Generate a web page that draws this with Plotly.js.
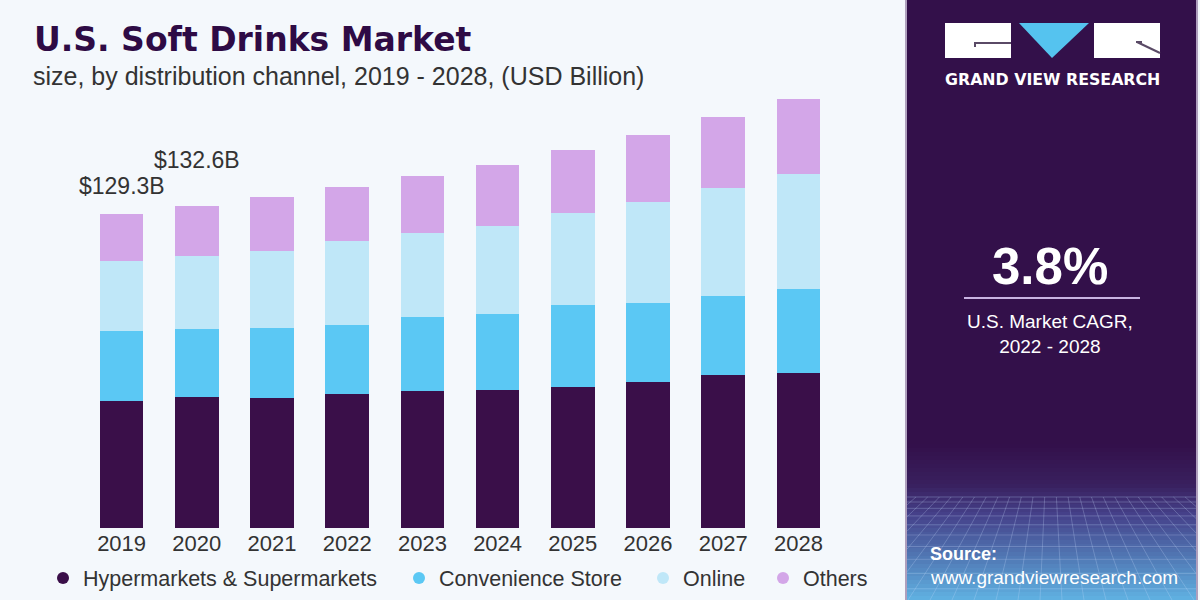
<!DOCTYPE html>
<html>
<head>
<meta charset="utf-8">
<script src="https://cdn.plot.ly/plotly-3.0.1.min.js"></script>
<style>html,body{margin:0;padding:0;background:#f4f8fc;}#chart{width:1200px;height:600px;}</style>
</head>
<body>
<div id="chart"></div>
<script>
// ---- data ----
const years = ['2019','2020','2021','2022','2023','2024','2025','2026','2027','2028'];
const hyper  = [52.4, 53.8, 53.6, 55.4, 56.6, 56.7, 58.1, 60.2, 63.2, 64.0];
const conv   = [28.9, 28.3, 28.8, 28.4, 30.2, 31.6, 33.7, 32.5, 32.4, 34.6];
const online = [28.8, 30.0, 31.6, 34.6, 34.6, 36.1, 37.8, 41.5, 44.4, 47.2];
const others = [19.2, 20.5, 22.2, 22.2, 23.8, 25.3, 26.2, 27.6, 29.4, 30.9];
const seriesNames = ['Hypermarkets & Supermarkets', 'Convenience Store', 'Online', 'Others'];
const labelYears = ['2019', '2020'];
const labelTexts = ['$129.3B', '$132.6B'];
const cagrText = '3.8%';
const cagrCaption = 'U.S. Market CAGR,<br>2022 - 2028';

// ---- styles ----
const colors = ['#3a0f49', '#5bc8f4', '#bfe7f8', '#d3a6e8'];
const FONT = '"Liberation Sans", Arial, sans-serif';
const TXT = '#333333';
const BG = '#f4f8fc';
const PANEL = '#33104a';

const L = 84, R = 836, T = 79, B = 528;
const W = R - L, H = B - T;
const X = px => (px - L) / W;
const Y = py => (B - py) / H;

const series = [hyper, conv, online, others];
const traces = series.map((vals, i) => ({
  type: 'bar', x: years, y: vals, name: seriesNames[i],
  marker: {color: colors[i], line: {width: 0}},
  showlegend: false, hoverinfo: 'x+y+name'
}));
// legend entries (circle symbols) on a hidden helper axis
const legendX = [43, 399, 643, 763];
seriesNames.forEach((n, i) => {
  traces.push({
    type: 'scatter', mode: 'markers', x: [null], y: [null], name: n,
    xaxis: 'x2', yaxis: 'y2',
    marker: {color: colors[i], size: 17, symbol: 'circle'},
    showlegend: true, legend: i === 0 ? 'legend' : 'legend' + (i + 1), hoverinfo: 'skip'
  });
});

const totals = years.map((_, j) => series.reduce((s, a) => s + a[j], 0));

const shapes = [];
// right panel
shapes.push({type: 'rect', xref: 'paper', yref: 'paper', x0: X(905), x1: X(1200), y0: Y(0), y1: Y(600),
  fillcolor: PANEL, line: {width: 0}, layer: 'below'});
// gradient bands at the bottom of the panel
function hex(c){return [parseInt(c.slice(1,3),16),parseInt(c.slice(3,5),16),parseInt(c.slice(5,7),16)];}
const stops = [[445, '#33104a'], [485, '#39205f'], [515, '#45418a'], [555, '#5075b2'], [600, '#60b2e2']];
function colAt(y){
  for (let k = 0; k < stops.length - 1; k++){
    const [y0, c0] = stops[k], [y1, c1] = stops[k+1];
    if (y >= y0 && y <= y1){
      const t = (y - y0) / (y1 - y0), a = hex(c0), b = hex(c1);
      return 'rgb(' + a.map((v, m) => Math.round(v + (b[m] - v) * t)).join(',') + ')';
    }
  }
  return stops[stops.length-1][1];
}
for (let y = 444; y < 600; y += 4){
  shapes.push({type: 'rect', xref: 'paper', yref: 'paper', x0: X(907), x1: X(1196), y0: Y(y + 4.5), y1: Y(y),
    fillcolor: colAt(y + 2), line: {width: 0}, layer: 'below'});
}
// perspective grid (clipped to the panel)
const gridLine = {color: 'rgba(205,225,255,0.25)', width: 1};
const PX0 = 907, PX1 = 1196, GY0 = 497, GY1 = 600;
let gy = GY0, step = 5;
while (gy < 600){
  shapes.push({type: 'line', xref: 'paper', yref: 'paper', x0: X(PX0), x1: X(PX1), y0: Y(gy), y1: Y(gy), line: gridLine, layer: 'below'});
  gy += step; step += 1.3;
}
const vx = 1050, vy = 380;
for (let bx = 600; bx <= 1500; bx += 22){
  const t0 = (GY0 - vy) / (GY1 - vy);
  let xa = vx + (bx - vx) * t0, ya = GY0, xb = bx, yb = GY1;
  const clip = (xv) => Math.min(Math.max(xv, PX0), PX1);
  if ((xa < PX0 && xb < PX0) || (xa > PX1 && xb > PX1)) continue;
  if (xb < PX0 || xb > PX1){
    const xc = clip(xb); yb = ya + (yb - ya) * (xc - xa) / (xb - xa); xb = xc;
  }
  shapes.push({type: 'line', xref: 'paper', yref: 'paper', x0: X(xa), x1: X(xb), y0: Y(ya), y1: Y(yb), line: gridLine, layer: 'below'});
}
// panel side borders
shapes.push({type: 'line', xref: 'paper', yref: 'paper', x0: X(906), x1: X(906), y0: Y(0), y1: Y(600), line: {color: '#d8cfe4', width: 1.5}});
shapes.push({type: 'line', xref: 'paper', yref: 'paper', x0: X(1197), x1: X(1197), y0: Y(0), y1: Y(600), line: {color: '#d8cfe4', width: 1.5}});
shapes.push({type: 'rect', xref: 'paper', yref: 'paper', x0: X(1198), x1: X(1200), y0: Y(0), y1: Y(600), fillcolor: BG, line: {width: 0}});
// logo
shapes.push({type: 'rect', xref: 'paper', yref: 'paper', x0: X(945), x1: X(1011), y0: Y(58), y1: Y(23), fillcolor: '#ffffff', line: {width: 0}});
shapes.push({type: 'rect', xref: 'paper', yref: 'paper', x0: X(1094), x1: X(1160), y0: Y(58), y1: Y(23), fillcolor: '#ffffff', line: {width: 0}});
shapes.push({type: 'path', xref: 'paper', yref: 'paper',
  path: 'M ' + X(1019) + ' ' + Y(23) + ' L ' + X(1089) + ' ' + Y(23) + ' L ' + X(1052) + ' ' + Y(58) + ' Z',
  fillcolor: '#55c3ef', line: {width: 0}});
shapes.push({type: 'line', xref: 'paper', yref: 'paper', x0: X(975), x1: X(1011), y0: Y(43), y1: Y(43), line: {color: '#5a4a66', width: 2}});
shapes.push({type: 'line', xref: 'paper', yref: 'paper', x0: X(975), x1: X(975), y0: Y(42), y1: Y(47), line: {color: '#5a4a66', width: 2}});
shapes.push({type: 'line', xref: 'paper', yref: 'paper', x0: X(1137), x1: X(1160), y0: Y(42), y1: Y(53), line: {color: '#5a4a66', width: 2}});
shapes.push({type: 'line', xref: 'paper', yref: 'paper', x0: X(1136), x1: X(1142), y0: Y(42), y1: Y(42), line: {color: '#5a4a66', width: 2}});
// CAGR rule
shapes.push({type: 'line', xref: 'paper', yref: 'paper', x0: X(964), x1: X(1140), y0: Y(298), y1: Y(298), line: {color: '#c9b3e2', width: 2}});

const annotations = [
  {xref: 'paper', yref: 'paper', x: X(32), y: Y(40), xanchor: 'left', yanchor: 'middle', showarrow: false,
   text: '<b>U.S. Soft Drinks Market</b>', font: {family: '"DejaVu Sans", sans-serif', size: 33, color: '#2e0b45'}},
  {xref: 'paper', yref: 'paper', x: X(31), y: Y(76), xanchor: 'left', yanchor: 'middle', showarrow: false,
   text: 'size, by distribution channel, 2019 - 2028, (USD Billion)', font: {family: FONT, size: 25, color: TXT}},
  {xref: 'paper', yref: 'paper', x: X(1052), y: Y(79), xanchor: 'center', yanchor: 'middle', showarrow: false,
   text: '<b>GRAND VIEW RESEARCH</b>', font: {family: '"DejaVu Sans", sans-serif', size: 15.8, color: '#ffffff'}},
  {xref: 'paper', yref: 'paper', x: X(1050), y: Y(266), xanchor: 'center', yanchor: 'middle', showarrow: false,
   text: '<b>' + cagrText + '</b>', font: {family: FONT, size: 51, color: '#ffffff'}},
  {xref: 'paper', yref: 'paper', x: X(1050), y: Y(334), xanchor: 'center', yanchor: 'middle', showarrow: false,
   text: cagrCaption, font: {family: FONT, size: 19, color: '#ffffff'}},
  {xref: 'paper', yref: 'paper', x: X(928), y: Y(554), xanchor: 'left', yanchor: 'middle', showarrow: false,
   text: '<b>Source:</b>', font: {family: FONT, size: 18, color: '#ffffff'}},
  {xref: 'paper', yref: 'paper', x: X(928), y: Y(577), xanchor: 'left', yanchor: 'middle', showarrow: false,
   text: 'www.grandviewresearch.com', font: {family: FONT, size: 19, color: '#ffffff'}}
];
const labelShift = [28, 46];
labelYears.forEach((yr, i) => {
  const j = years.indexOf(yr);
  annotations.push({x: j, y: totals[j], xref: 'x', yref: 'y', xanchor: 'center', yanchor: 'middle', yshift: labelShift[i],
    showarrow: false, text: labelTexts[i], font: {family: FONT, size: 23, color: TXT}});
});

const legendBase = {orientation: 'h', xref: 'container', yref: 'container', xanchor: 'left', yanchor: 'middle',
  y: 1 - 578 / 600, bgcolor: 'rgba(0,0,0,0)', borderwidth: 0, font: {family: FONT, size: 21.5, color: TXT}, itemsizing: 'constant'};

const layout = {
  width: 1200, height: 600,
  margin: {l: L, r: 1200 - R, t: T, b: 600 - B, pad: 0},
  paper_bgcolor: BG, plot_bgcolor: 'rgba(0,0,0,0)',
  barmode: 'stack', bargap: 0.42,
  font: {family: FONT, color: TXT},
  xaxis: {type: 'category', categoryorder: 'array', categoryarray: years, range: [-0.5, years.length - 0.5],
    showgrid: false, zeroline: false, showline: false, ticks: '',
    tickfont: {family: FONT, size: 22, color: TXT}, fixedrange: true},
  yaxis: {range: [0, 185], visible: false, showgrid: false, zeroline: false, fixedrange: true},
  xaxis2: {overlaying: 'x', visible: false, range: [0, 1], fixedrange: true},
  yaxis2: {overlaying: 'y', visible: false, range: [0, 1], fixedrange: true},
  legend: Object.assign({}, legendBase, {x: legendX[0] / 1200}),
  legend2: Object.assign({}, legendBase, {x: legendX[1] / 1200}),
  legend3: Object.assign({}, legendBase, {x: legendX[2] / 1200}),
  legend4: Object.assign({}, legendBase, {x: legendX[3] / 1200}),
  shapes: shapes, annotations: annotations
};

Plotly.newPlot('chart', traces, layout, {displayModeBar: false, staticPlot: true});
</script>
</body>
</html>
